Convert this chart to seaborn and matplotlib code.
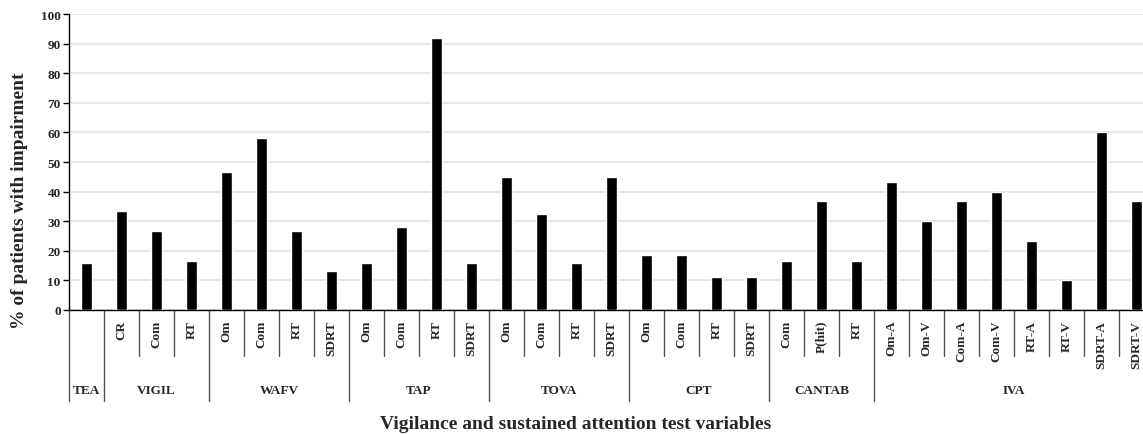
import numpy as np
import pandas as pd
import seaborn as sns
import matplotlib.pyplot as plt

# Test groups and their variables
groups = ['TEA', 'VIGIL', 'WAFV', 'TAP', 'TOVA', 'CPT', 'CANTAB', 'IVA']
group_vars = [
    [''],
    ['CR', 'Com', 'RT'],
    ['Om', 'Com', 'RT', 'SDRT'],
    ['Om', 'Com', 'RT', 'SDRT'],
    ['Om', 'Com', 'RT', 'SDRT'],
    ['Om', 'Com', 'RT', 'SDRT'],
    ['Com', 'P(hit)', 'RT'],
    ['Om-A', 'Om-V', 'Com-A', 'Com-V', 'RT-A', 'RT-V', 'SDRT-A', 'SDRT-V'],
]
group_vals = [
    [16.0],
    [33.3, 26.7, 16.7],
    [46.7, 58.1, 26.7, 13.3],
    [16.0, 28.0, 92.0, 16.0],
    [45.0, 32.3, 16.0, 45.0],
    [18.5, 18.5, 11.1, 11.1],
    [16.7, 36.7, 16.7],
    [43.3, 30.0, 36.7, 40.0, 23.3, 10.0, 60.0, 36.7],
]

rows = []
for g, vs, vals in zip(groups, group_vars, group_vals):
    for v, val in zip(vs, vals):
        rows.append({'group': g, 'var': v, 'pct': val})
df = pd.DataFrame(rows)
df['pos'] = np.arange(len(df))

sns.set_style('white')
plt.rcParams['font.family'] = ['Liberation Serif', 'DejaVu Serif']
plt.rcParams['font.weight'] = 'bold'

fig = plt.figure(figsize=(11.43, 4.35), dpi=100)
ax = fig.add_axes([69 / 1143, 124 / 435, 1 - 69 / 1143, 296 / 435])

sns.barplot(data=df, x='pos', y='pct', color='black', width=0.33,
            saturation=1, ax=ax, zorder=3)

n = len(df)
ax.set_xlim(-0.5, n - 0.5 - 11 / 35)
ax.set_ylim(0, 100)
ax.set_yticks(np.arange(0, 101, 10))
ax.yaxis.grid(True, color='#e3e3e3', linewidth=1.2, zorder=0)
ax.set_axisbelow(True)
for s in ['top', 'right']:
    ax.spines[s].set_visible(False)
ax.spines['left'].set_color('black')
ax.spines['bottom'].set_color('black')
ax.spines['left'].set_linewidth(1)
ax.spines['bottom'].set_linewidth(1)

ax.tick_params(axis='y', length=4, width=1, color='black', direction='out',
               labelsize=9.5, pad=2, left=True)
ax.set_xticks(df['pos'])
ax.set_xticklabels(df['var'], rotation=90, fontsize=9.5, fontweight='bold',
                   va='top', ha='center')
ax.tick_params(axis='x', length=0, pad=7)
for lab in ax.get_yticklabels():
    lab.set_fontweight('bold')

ax.set_xlabel('')
ax.set_ylabel('')

# separators below the axis
trans = ax.get_xaxis_transform()
short_y = -46 / 296
long_y = -91 / 296
bounds = []
start = 0
for vs in group_vars:
    bounds.append((start, start + len(vs)))
    start += len(vs)
group_edges = [b[0] - 0.5 for b in bounds]
for i in range(n):
    edge = i - 0.5
    bottom = long_y if edge in group_edges else short_y
    ax.plot([edge, edge], [0, bottom], transform=trans, color='#555555',
            linewidth=1, clip_on=False)

for g, (a, b) in zip(groups, bounds):
    ax.text((a + b - 1) / 2, -80 / 296, g, transform=trans, ha='center',
            va='center', fontsize=9.5, fontweight='bold')

fig.text(20 / 1143, 1 - 201 / 435, '% of patients with impairment',
         rotation=90, ha='center', va='center', fontsize=14, fontweight='bold')
fig.text(576 / 1143, 10 / 435, 'Vigilance and sustained attention test variables',
         ha='center', va='center', fontsize=14, fontweight='bold')

fig.savefig('out.png', dpi=100)
